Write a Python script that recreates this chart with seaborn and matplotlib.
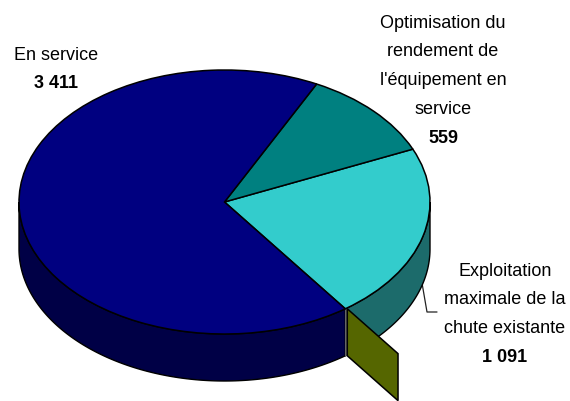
import numpy as np
import matplotlib
matplotlib.use("Agg")
import matplotlib.pyplot as plt
import seaborn as sns

categories = ["Exploitation maximale de la chute existante",
              "Optimisation du rendement de l'équipement en service",
              "En service"]
values = [1091, 559, 3411]
value_labels = ["1 091", "559", "3 411"]
label_lines = [["Exploitation", "maximale de la", "chute existante"],
               ["Optimisation du", "rendement de", "l'équipement en", "service"],
               ["En service"]]
label_centers = [(505, 271), (443, 23), (56, 55)]
top_colors = ["#33CCCC", "#008080", "#000080"]
side_colors = ["#1C6B6B", "#004040", "#000046"]
start_angle = -54.0
W, H = 570, 401
cx, cy, rx, ry, depth = 224.5, 202, 205.5, 132, 47

sns.set_theme(style="white")
plt.rcParams["font.family"] = ["Liberation Sans", "DejaVu Sans"]

fig = plt.figure(figsize=(W / 100, H / 100), dpi=100, facecolor="white")
bg = fig.add_axes([0, 0, 1, 1])
bg.set_xlim(0, W)
bg.set_ylim(H, 0)
bg.axis("off")

ax = fig.add_axes([(cx - rx) / W, 1 - (cy + ry) / H, 2 * rx / W, 2 * ry / H])
ax.patch.set_alpha(0)
ax.pie(values, colors=top_colors, startangle=start_angle, counterclock=True, radius=1,
       wedgeprops=dict(edgecolor="black", linewidth=1.1, zorder=5))
ax.set_aspect("auto")
ax.set_xlim(-1, 1)
ax.set_ylim(-1, 1)
d = depth / ry

# side walls, from the same data-driven angles
edges = start_angle + np.concatenate([[0], np.cumsum(values)]) / np.sum(values) * 360
for a0, a1, c in zip(edges[:-1], edges[1:], side_colors):
    for lo, hi in [(180, 360), (-180, 0)]:
        s, e = max(a0, lo), min(a1, hi)
        if s >= e:
            continue
        t = np.radians(np.linspace(s, e, 150))
        xs = np.cos(t)
        ax.fill(np.r_[xs, xs[::-1]], np.r_[np.sin(t), np.sin(t)[::-1] - d],
                facecolor=c, edgecolor="black", linewidth=1.0, zorder=2, clip_on=False)

# thin grey cut and olive radial panel at the start of the first slice
t0 = np.radians(start_angle)
u, v = np.cos(t0), np.sin(t0)
gx = 2.0 / rx
ax.fill([u, u + gx, u + gx, u], [v, v, v - d, v - d], facecolor="#666666",
        edgecolor="none", zorder=3, clip_on=False)
r0, r1 = 1.0, 1.42
x0, x1 = r0 * u + gx, r1 * u + gx
ax.fill([x0, x1, x1, x0], [r0 * v, r1 * v, r1 * v - d, r0 * v - d], facecolor="#556600",
        edgecolor="black", linewidth=1.1, zorder=4, clip_on=False)

# leader line
bg.plot([422, 427, 437], [283, 312, 312], color="#222222", lw=0.9)

# labels
step = 28.8
fs = 13
for lines, val, (x, y) in zip(label_lines, value_labels, label_centers):
    for i, line in enumerate(lines):
        bg.text(x, y + i * step, line, ha="center", va="center", fontsize=fs, color="black")
    bg.text(x, y + len(lines) * step, val, ha="center", va="center", fontsize=fs,
            fontweight="bold", color="black")

fig.savefig("out.png", dpi=100)
